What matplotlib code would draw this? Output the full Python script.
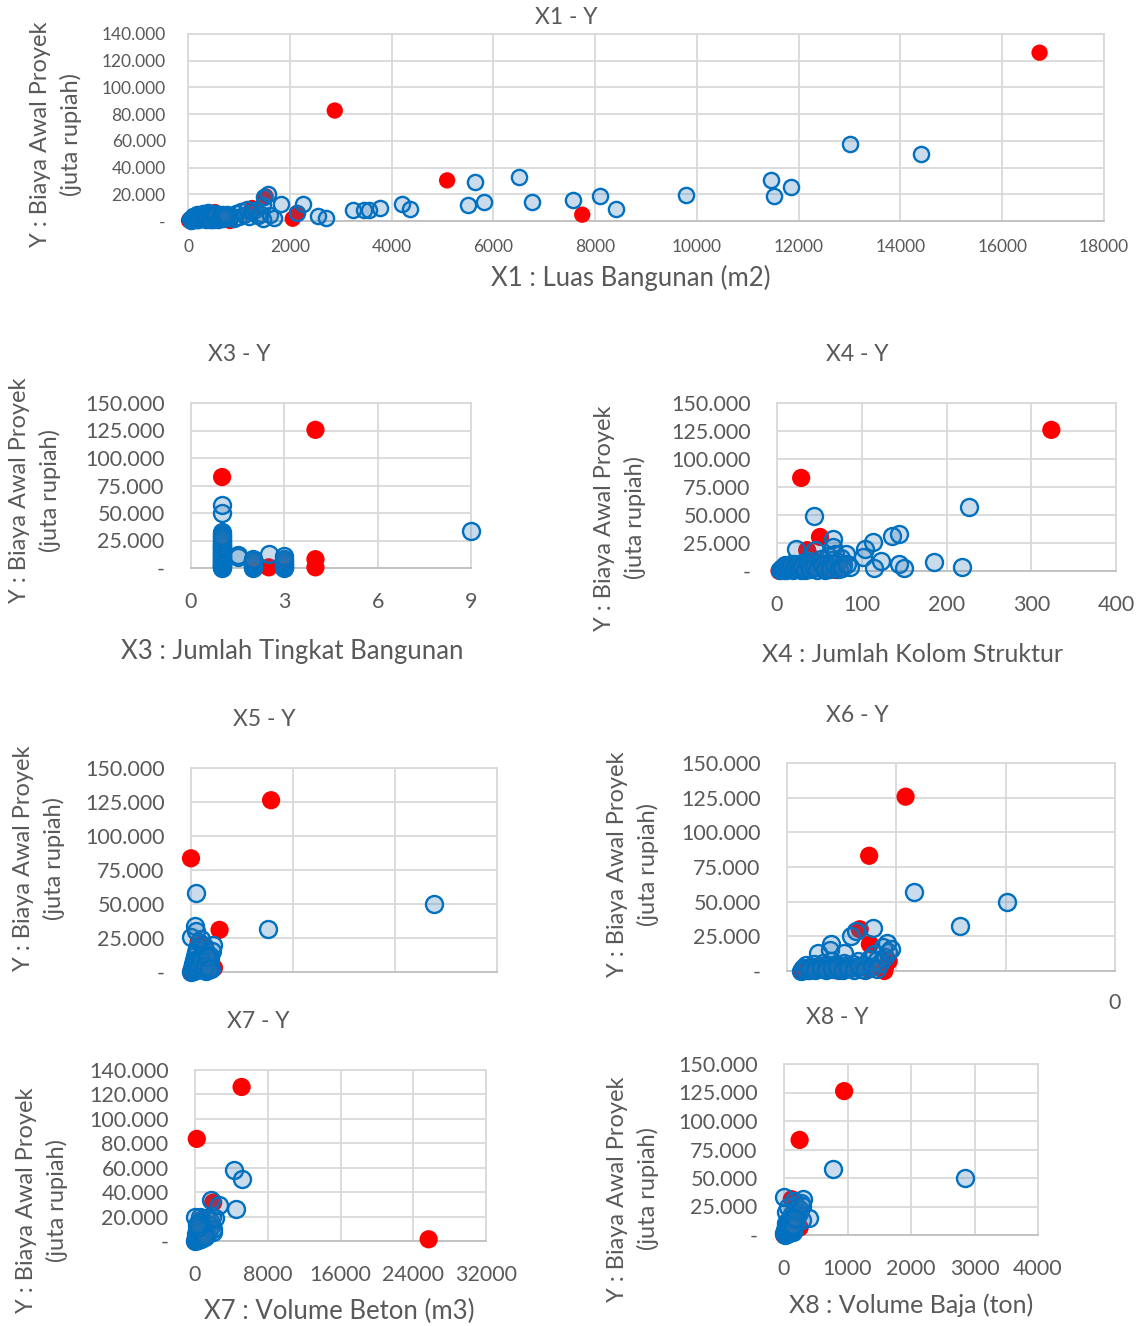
import matplotlib
matplotlib.use("Agg")
import matplotlib.pyplot as plt
from matplotlib.ticker import FuncFormatter

plt.rcParams['font.family'] = ['Lato', 'DejaVu Sans']

#---------------------------------------------------
#----------------------data-------------------------
#---------------------------------------------------
# Y : Biaya Awal Proyek (juta rupiah), blue = data, red = highlighted

# X1 : Luas Bangunan (m2)
x1_blue = [40, 70, 100, 120, 150, 170, 200, 220, 250, 270, 300, 320, 350, 380, 400, 420, 450, 480,
           500, 530, 560, 600, 640, 680, 720, 760, 800, 850, 900, 950, 1000, 1050, 1100, 1150, 1200,
           1260, 1320, 1380, 1440, 1465, 1472, 1487, 1577, 1620, 1690, 1825, 2140, 2253, 2554, 2704,
           3245, 3455, 3552, 3778, 4206, 4364, 5498, 5640, 5820, 6504, 6767, 7559, 8094, 8412, 9787,
           11458, 11523, 11855, 13012, 14400,
           60, 90, 130, 180, 210, 240, 290, 330, 360, 410, 440, 470, 510, 540, 590, 620, 660, 700, 740]
y1_blue = [1200, 2500, 600, 3800, 1800, 5200, 900, 3000, 4500, 1500, 6000, 2800, 800, 4200, 6800, 2000, 5000, 3200,
           1000, 6200, 3800, 2200, 4800, 1500, 3500, 5500, 2500, 4000, 1800, 5800, 3000, 7500, 4500, 9200, 2800,
           6500, 8000, 3500, 5500, 1250, 12000, 17900, 20400, 4500, 2500, 12500, 6000, 12500, 3500, 2500,
           8000, 8500, 8000, 9500, 12700, 8700, 12000, 28900, 14450, 32900, 14450, 15500, 18500, 9000, 19500,
           31000, 18500, 25500, 57500, 50000,
           300, 3500, 2200, 500, 4800, 2000, 3300, 5500, 1900, 3800, 700, 4400, 2900, 5000, 900, 3100, 5600,
           2100, 4200]
x1_red = [20, 150, 300, 530, 700, 825, 1260, 1525, 2058, 2140, 2884, 5092, 7747, 16734]
y1_red = [400, 300, 2000, 6700, 1500, 0, 9700, 18400, 1700, 6000, 82700, 30400, 4750, 126000]

# X3 : Jumlah Tingkat Bangunan
x3_blue = [1, 1, 1, 1, 1, 1, 1, 1, 1, 1, 1, 1, 1, 1, 1, 1, 1, 1, 1,
           1, 1, 1, 1, 1, 1, 1, 1, 1, 1, 1, 1, 1, 1, 1,
           1.5, 1.5, 2, 2, 2, 2, 2, 2, 2, 2, 2, 2.5, 3, 3, 3, 3, 3, 3, 3, 3, 9]
y3_blue = [0, 1500, 3000, 4500, 6000, 8000, 10000, 12000, 14000, 16000, 18000, 20000, 22000, 25000, 28000,
           31000, 33000, 50000, 57500,
           700, 2200, 3700, 5200, 7000, 9000, 11000, 13000, 15000, 17000, 19000, 21000, 23500, 26500, 29500,
           9700, 11800, 0, 1000, 2000, 3000, 4000, 5000, 6000, 7000, 8000, 12700, 0, 1000, 2000, 3600, 5000,
           6000, 8000, 10500, 33200]
x3_red = [1, 1, 1, 2, 2.5, 3, 4, 4, 4]
y3_red = [0, 28000, 82700, 0, 600, 7000, 125600, 8000, 600]

# X4 : Jumlah Kolom Struktur
x4_blue = [3, 5, 8, 10, 12, 15, 18, 20, 22, 25, 28, 30, 32, 35, 38, 40, 42, 43.7, 45, 48, 50, 52, 55, 58,
           60, 62, 65, 66, 66, 68, 70, 72, 75, 78, 81, 86, 101.8, 103.4, 113.5, 114.3, 122.7, 136, 143.6,
           144.5, 150, 184.7, 217.8, 226,
           6, 9, 11, 14, 16, 19, 21, 24, 26, 29, 33, 36, 39, 44, 47, 53, 57, 63, 67, 73, 77, 83]
y4_blue = [500, 2000, 1000, 3500, 1500, 4000, 2500, 6000, 20000, 3000, 1000, 7000, 4500, 2000, 9000, 5500,
           3000, 49300, 18700, 7500, 4000, 11000, 2000, 6500, 13000, 4500, 9500, 29000, 21000, 15600, 3000,
           8000, 12000, 5000, 15000, 3600, 12300, 19200, 25800, 2700, 9000, 31200, 6000, 33000, 2400, 8100,
           3600, 57300,
           3000, 5000, 500, 2500, 6500, 800, 3500, 5500, 1500, 4000, 800, 6000, 1500, 3500, 1000, 5500, 800,
           2000, 6000, 1500, 3000, 6500]
x4_red = [3, 8, 15, 28.5, 35.6, 40, 50.7, 55, 62, 70, 323.7]
y4_red = [0, 500, 1500, 83100, 18600, 12000, 30400, 1000, 3000, 800, 126000]

# X5 (axis without labels)
x5_blue = [0, 2, 4, 5, 6, 8, 10, 10, 12, 14, 15, 17, 18, 20, 22, 24, 25, 28, 30, 32, 34, 36, 38, 40,
           30, 26, 20, 0, 7, 9, 9, 44, 41, 37, 150, 476,
           3, 6, 9, 12, 16, 19, 23, 27, 31, 35]
y5_blue = [0, 3000, 6000, 1000, 9000, 12000, 4000, 15000, 18000, 2000, 7000, 10000, 21000, 5000, 13000,
           3000, 8000, 16000, 1000, 6000, 11000, 4000, 8500, 2000, 13000, 19000, 24000, 25400, 33500, 57900,
           29800, 20000, 15100, 11500, 31800, 50300,
           1500, 4500, 7500, 2500, 5500, 9000, 1500, 4500, 11000, 2000]
x5_red = [0, 10, 15, 25, 30, 37, 45, 56, 0, 157]
y5_red = [0, 1000, 22000, 15000, 9000, 4000, 3000, 31000, 83600, 126300]

# X6 (axis without labels)
x6_blue = [25, 30, 35, 40, 45, 50, 55, 60, 65, 70, 75, 80, 85, 90, 95, 100, 105, 110, 115, 120, 125, 130,
           135, 140, 150, 160, 165, 170, 175, 180, 185, 57, 79, 80, 103.5, 117, 127, 158, 183, 191, 232,
           316, 403,
           32, 42, 52, 62, 72, 82, 92, 102, 112, 122, 132, 142, 155, 165]
y6_blue = [0, 2000, 4000, 1000, 3000, 5000, 1500, 3500, 6000, 2000, 4500, 7000, 2500, 5000, 1000, 3000,
           6000, 4000, 2000, 5000, 3000, 7000, 1500, 4000, 9000, 12000, 8000, 6000, 17000, 10000, 14000,
           12800, 15200, 19300, 13200, 25300, 28900, 31300, 20500, 15700, 57300, 32500, 49800,
           500, 2500, 700, 2500, 500, 1500, 3000, 800, 2500, 600, 3500, 1000, 3000, 1500]
x6_red = [28, 41, 60, 90, 120, 148, 150, 178, 179, 186, 133, 151.6, 150.3, 216.9]
y6_red = [0, 0, 1000, 500, 2000, 2000, 1200, 0, 2400, 7200, 30100, 19300, 83100, 125700]

# X7 : Volume Beton (m3)
x7_blue = [50, 100, 150, 200, 250, 300, 350, 400, 450, 500, 550, 600, 650, 700, 800, 900, 1000, 1100,
           1200, 1300, 1400, 1500, 1700, 1800, 2000, 1900, 600, 300, 0, 1970, 2167, 1773, 2640, 4532,
           4335, 5123,
           80, 180, 280, 380, 480, 580, 750, 950, 1150, 380, 200]
y7_blue = [0, 3000, 6000, 1000, 9000, 4000, 12000, 2000, 7000, 15000, 5000, 10000, 1500, 17000, 8000,
           13000, 4000, 11000, 19000, 6000, 14000, 9000, 16000, 12000, 7000, 20000, 19500, 15000, 19600,
           10000, 18800, 33800, 29700, 26400, 58300, 50400,
           1500, 4500, 7500, 500, 3500, 8000, 2500, 6000, 3000, 10500, 13500]
x7_red = [0, 300, 600, 900, 2000, 197, 5123, 25695]
y7_red = [0, 3000, 17000, 6000, 31500, 83600, 126100, 1400]

# X8 : Volume Baja (ton)
x8_blue = [10, 20, 30, 40, 50, 60, 70, 80, 90, 100, 110, 120, 130, 140, 150, 160, 170, 180, 200, 220,
           240, 260, 280, 30, 60, 150, 250, 0, 302, 291, 392, 773, 2857,
           5, 15, 25, 35, 45, 55, 65, 75, 85, 95, 105, 115, 125, 135, 145, 175]
y8_blue = [0, 3000, 6000, 1500, 9000, 4000, 12000, 2000, 7000, 15000, 5000, 10000, 18000, 3000, 13000,
           8000, 21000, 11000, 16000, 24000, 19000, 28000, 13000, 20000, 25000, 30000, 22000, 32900, 31400,
           25500, 14700, 57500, 49900,
           1500, 4500, 7500, 10500, 500, 3500, 6500, 9500, 4500, 11500, 2500, 7000, 14000, 6000, 9000, 14500]
x8_red = [0, 80, 160, 246, 123, 246, 947]
y8_red = [0, 10000, 20000, 6500, 31400, 83400, 126200]

#---------------------------------------------------
#-------------------styling-------------------------
#---------------------------------------------------
W, H = 1137, 1326
TXT = '#595959'
GRID = '#D9D9D9'
BLUE_EDGE = '#0070C0'
BLUE_FACE = (0.18, 0.46, 0.71, 0.25)
RED = '#FF0000'
YLAB = "Y : Biaya Awal Proyek\n(juta rupiah)"

fig = plt.figure(figsize=(W / 100, H / 100), dpi=100)


def y_fmt(v, pos):
    if abs(v) < 1e-9:
        return '-'
    return f'{v:,.0f}'.replace(',', '.')


def px_axes(left, top, right, bottom):
    # pixel box -> figure fraction axes
    return fig.add_axes([left / W, 1 - bottom / H, (right - left) / W, (bottom - top) / H])


def fig_text(x, y, s, **kw):
    fig.text(x / W, 1 - y / H, s, color=TXT, ha='center', va='center', **kw)


def y_label(x, y):
    fig_text(x, y, YLAB, fontsize=17, rotation=90, multialignment='center', linespacing=1.45)


def panel(box, xb, yb, xr, yr, xlim, xstep, ylim, ystep, tick_fs=15.5, msize=150,
          show_x=True, xpad=17, ypad=19):
    ax = px_axes(*box)
    ax.scatter(xr, yr, s=msize * 1.15, color=RED, edgecolors='none', zorder=3, clip_on=False)
    ax.scatter(xb, yb, s=msize, facecolors=[BLUE_FACE], edgecolors=BLUE_EDGE, linewidths=1.7,
               zorder=4, clip_on=False)
    ax.set_xlim(*xlim)
    ax.set_ylim(*ylim)
    ax.set_xticks([xlim[0] + i * xstep for i in range(int(round((xlim[1] - xlim[0]) / xstep)) + 1)])
    ax.set_yticks([ylim[0] + i * ystep for i in range(int(round((ylim[1] - ylim[0]) / ystep)) + 1)])
    ax.yaxis.set_major_formatter(FuncFormatter(y_fmt))
    ax.grid(True, color=GRID, linewidth=1.3, zorder=0)
    ax.set_axisbelow(True)
    for side in ['top', 'right', 'left']:
        ax.spines[side].set_color(GRID)
        ax.spines[side].set_linewidth(1.3)
    ax.spines['bottom'].set_color('#BFBFBF')
    ax.spines['bottom'].set_linewidth(1.3)
    ax.tick_params(length=0, labelsize=tick_fs, labelcolor=TXT)
    ax.tick_params(axis='x', pad=xpad)
    ax.tick_params(axis='y', pad=ypad)
    if not show_x:
        ax.set_xticklabels([])
    return ax


# X1 - Y (wide panel on top)
panel((188, 34, 1104, 221), x1_blue, y1_blue, x1_red, y1_red, (0, 18000), 2000, (0, 140000), 20000,
      tick_fs=12.5, msize=120, xpad=13, ypad=16)
fig_text(566, 18, "X1 - Y", fontsize=16.5)
fig_text(631, 278, "X1 : Luas Bangunan (m2)", fontsize=18.5)
y_label(56, 134)

# X3 - Y
panel((191, 403, 471, 568), x3_blue, y3_blue, x3_red, y3_red, (0, 9), 3, (0, 150000), 25000)
fig_text(239, 355, "X3 - Y", fontsize=16.5)
fig_text(292, 652, "X3 : Jumlah Tingkat Bangunan", fontsize=18.5)
y_label(35, 490)

# X4 - Y
panel((777, 403, 1116, 571), x4_blue, y4_blue, x4_red, y4_red, (0, 400), 100, (0, 150000), 25000)
fig_text(857, 355, "X4 - Y", fontsize=16.5)
fig_text(913, 654, "X4 : Jumlah Kolom Struktur", fontsize=18)
y_label(620, 518)

# X5 - Y
panel((191, 768, 497, 972), x5_blue, y5_blue, x5_red, y5_red, (0, 600), 200, (0, 150000), 25000,
      show_x=False)
fig_text(264, 720, "X5 - Y", fontsize=16.5)
y_label(39, 858)

# X6 - Y
panel((787, 763, 1115, 971), x6_blue, y6_blue, x6_red, y6_red, (0, 600), 200, (0, 150000), 25000,
      show_x=False)
fig_text(857, 716, "X6 - Y", fontsize=16.5)
y_label(633, 864)
fig_text(1115, 1003, "0", fontsize=15.5)

# X7 - Y
panel((195, 1070, 486, 1241), x7_blue, y7_blue, x7_red, y7_red, (0, 32000), 8000, (0, 140000), 20000)
fig_text(258, 1022, "X7 - Y", fontsize=16.5)
fig_text(339, 1311, "X7 : Volume Beton (m3)", fontsize=18.5)
y_label(42, 1200)

# X8 - Y
panel((784, 1064, 1038, 1235), x8_blue, y8_blue, x8_red, y8_red, (0, 4000), 1000, (0, 150000), 25000)
fig_text(837, 1017, "X8 - Y", fontsize=16.5)
fig_text(911, 1305, "X8 : Volume Baja (ton)", fontsize=18)
y_label(633, 1189)

fig.savefig("out.png", dpi=100)
